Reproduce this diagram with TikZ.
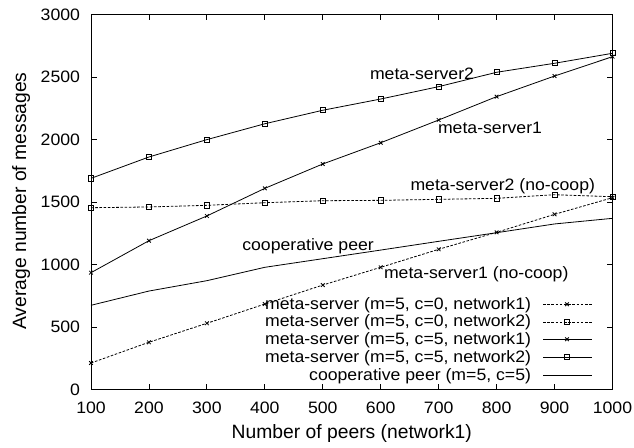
\documentclass[tikz,border=0pt]{standalone}
\usepackage{fontspec}
\setmainfont{Liberation Sans}[FakeStretch=1.07]
\newfontfamily\axisfont{Liberation Sans}
\usetikzlibrary{plotmarks}

\begin{document}
\begin{tikzpicture}[x=1pt,y=1pt,
  every node/.style={inner sep=0pt,outer sep=0pt},
  lbl/.style={font=\fontsize{16.5}{18}\selectfont},
  axislbl/.style={font=\axisfont\fontsize{19.3}{21}\selectfont},
  frame/.style={line width=0.8pt},
  curve/.style={line width=0.8pt},
  dashcurve/.style={curve,dash pattern=on 2.6pt off 1.6pt},
  crossmark/.style={mark=x,mark size=2.6pt,mark options={solid}},
  squaremark/.style={mark=square,mark size=2.6pt,mark options={solid}}]
\useasboundingbox (0,0) rectangle (634,447);

% axis titles
\node[axislbl,anchor=base] (xtitle) at (351.75,8.7) {Number of peers (network1)};
\node[axislbl,anchor=base,rotate=90] (ytitle) at (26,246) {Average number of messages};

% data coordinate system: peers on x, messages on y
\begin{scope}[x=0.57944pt,y=0.124933pt,xshift=33.056pt,yshift=57.5pt]
  \draw[frame] (100,0) rectangle (1000,3000);
  \foreach \x in {100,200,...,1000}{
    \draw[frame] (\x,0) -- ++(0,5.7pt);
    \draw[frame] (\x,3000) -- ++(0,-5.7pt);
    \node[lbl,yshift=-18pt] (xt\x) at (\x,0) {\x};
  }
  \foreach \y in {0,500,...,3000}{
    \draw[frame] (100,\y) -- ++(5.7pt,0);
    \draw[frame] (1000,\y) -- ++(-5.7pt,0);
    \node[lbl,anchor=east,xshift=-11pt] (yt\y) at (100,\y) {\y};
  }

  % meta-server, c=0, network1
  \draw[dashcurve] plot[crossmark] coordinates {(100,212) (200,378) (300,530) (400,684) (500,836) (600,978) (700,1122) (800,1258) (900,1402) (1000,1535)};
  % meta-server, c=0, network2
  \draw[dashcurve] plot[squaremark] coordinates {(100,1455) (200,1461) (300,1474) (400,1495) (500,1511) (600,1514) (700,1522) (800,1530) (900,1559) (1000,1543)};
  % meta-server, c=5, network1
  \draw[curve] plot[crossmark] coordinates {(100,935) (200,1191) (300,1389) (400,1610) (500,1805) (600,1975) (700,2157) (800,2344) (900,2509) (1000,2664)};
  % meta-server, c=5, network2
  \draw[curve] plot[squaremark] coordinates {(100,1690) (200,1861) (300,2000) (400,2127) (500,2235) (600,2325) (700,2424) (800,2539) (900,2611) (1000,2691)};
  % cooperative peer
  \draw[curve] plot coordinates {(100,674) (200,788) (300,871) (400,978) (500,1047) (600,1116) (700,1186) (800,1255) (900,1325) (1000,1370)};
\end{scope}

% curve labels
\node[lbl,anchor=base west] (ms2) at (370,367.7) {meta-server2};
\node[lbl,anchor=base west] (ms1) at (438,313.7) {meta-server1};
\node[lbl,anchor=base east] (ms2nc) at (595,256.3) {meta-server2 (no-coop)};
\node[lbl,anchor=base west] (coop) at (242.3,196) {cooperative peer};
\node[lbl,anchor=base west] (ms1nc) at (384,168.7) {meta-server1 (no-coop)};

% key: text, sample line and one mark in the middle of it
\node[lbl,anchor=base east] (k1) at (531,137.7) {meta-server (m=5, c=0, network1)};
\node[lbl,anchor=base east] (k2) at (531,120) {meta-server (m=5, c=0, network2)};
\node[lbl,anchor=base east] (k3) at (531,102.7) {meta-server (m=5, c=5, network1)};
\node[lbl,anchor=base east] (k4) at (531,84.7) {meta-server (m=5, c=5, network2)};
\node[lbl,anchor=base east] (k5) at (531,66.7) {cooperative peer (m=5, c=5)};
\draw[dashcurve] (543,142.7) -- (592,142.7);
\draw[curve] plot[only marks,crossmark] coordinates {(567,142.7)};
\draw[dashcurve] (543,125) -- (592,125);
\draw[curve] plot[only marks,squaremark] coordinates {(567,125)};
\draw[curve] (543,107.7) -- (592,107.7);
\draw[curve] plot[only marks,crossmark] coordinates {(567,107.7)};
\draw[curve] (543,89.7) -- (592,89.7);
\draw[curve] plot[only marks,squaremark] coordinates {(567,89.7)};
\draw[curve] (543,71.7) -- (592,71.7);
\end{tikzpicture}
\end{document}
